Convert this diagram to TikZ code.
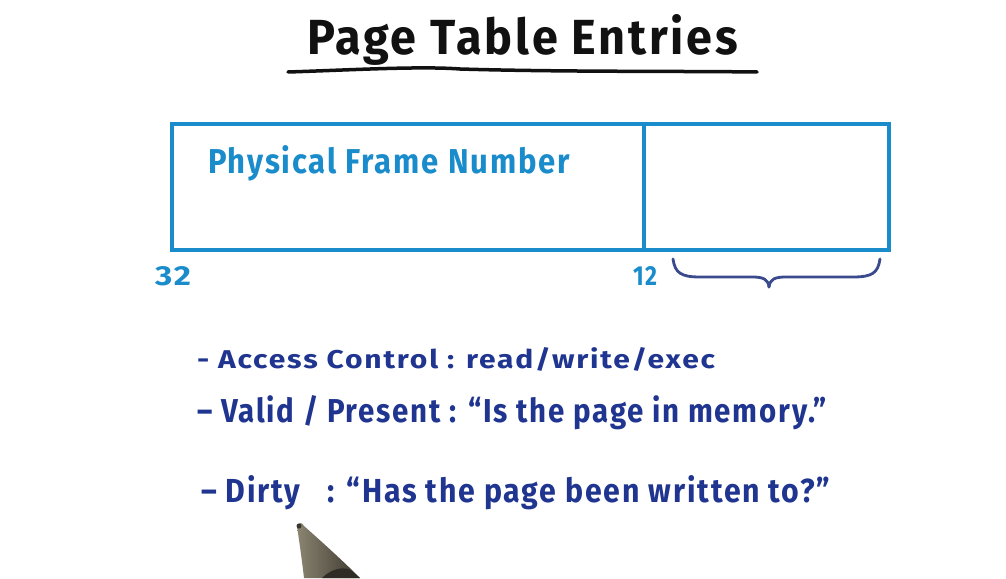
\documentclass[tikz,border=0pt]{standalone}
\usepackage{fontspec}
\usepackage{graphicx}
\newfontfamily\hand[LetterSpace=6]{Fira Sans}
\definecolor{inkblack}{HTML}{111111}
\definecolor{boxblue}{HTML}{1A8CCB}
\definecolor{inknavy}{HTML}{1F3590}
\definecolor{bracenavy}{HTML}{3A4A8C}
\definecolor{pendark}{HTML}{3B372E}
\definecolor{penlight}{HTML}{8A8470}
% text stretched to a given width and height (in pt)
\newcommand\handfit[3]{\resizebox{#1pt}{#2pt}{\hand\bfseries #3}}
\begin{document}
\begin{tikzpicture}[x=1pt,y=-1pt,
  handtext/.style={inner sep=0pt, outer sep=0pt, anchor=base west},
  field/.style={draw=boxblue, line width=3.5pt, inner sep=0pt, outer sep=0pt,
                anchor=north west, minimum height=126pt},
]
\useasboundingbox[fill=white] (0,0) rectangle (1006,578);

% title with its underline
\node[handtext, text=inkblack] (title) at (307,55) {\handfit{431}{40}{Page Table Entries}};
\draw[inkblack, line width=3.5pt, line cap=round]
  (288,72) .. controls (350,70) and (420,66) .. (460,69)
  .. controls (560,72) and (680,71) .. (757,72);

% the page table entry: frame number field and flag bits
\node[field, minimum width=472pt] (pfn) at (172,124) {};
\node[field, minimum width=245pt] (flags) at (644,124) {};
\node[handtext, text=boxblue] (pfnlabel) at (208,173) {\handfit{362}{28}{Physical Frame Number}};

% bit positions
\node[handtext, text=boxblue] (b32) at (155,285) {\handfit{36}{19}{32}};
\node[handtext, text=boxblue] (b12) at (633,285) {\handfit{24}{19}{12}};

% brace under the flag bits
\draw[bracenavy, line width=2.8pt, line cap=round]
  (673,259) .. controls (675,273) and (681,277) .. (700,277)
  -- (752,277) .. controls (763,277) and (768,279) .. (769,287);
\draw[bracenavy, line width=2.8pt, line cap=round]
  (880,259) .. controls (878,273) and (872,277) .. (853,277)
  -- (786,277) .. controls (775,277) and (770,279) .. (769,287);

% flag descriptions
\node[handtext, text=inknavy] (access) at (197,368)
  {\handfit{518}{21}{- Access Control : read/write/exec}};
\node[handtext, text=inknavy] (valid) at (197,422)
  {\handfit{630}{27}{– Valid / Present : “Is the page in memory.”}};
\node[handtext, text=inknavy] (dirty) at (201,502)
  {\handfit{629}{27}{– Dirty \ \ : “Has the page been written to?”}};

% marker pen tip
\shade[left color=penlight, right color=pendark]
  (297,526) .. controls (299,522) and (302,522) .. (304,526)
  .. controls (322,542) and (342,560) .. (360,578)
  -- (304,578) .. controls (302,560) and (299,540) .. cycle;
\fill[pendark!80!black] (322,578) .. controls (332,568) and (345,566) .. (352,571) -- (360,578) -- cycle;
\fill[pendark] (299,526) circle (2.5);
\end{tikzpicture}
\end{document}
